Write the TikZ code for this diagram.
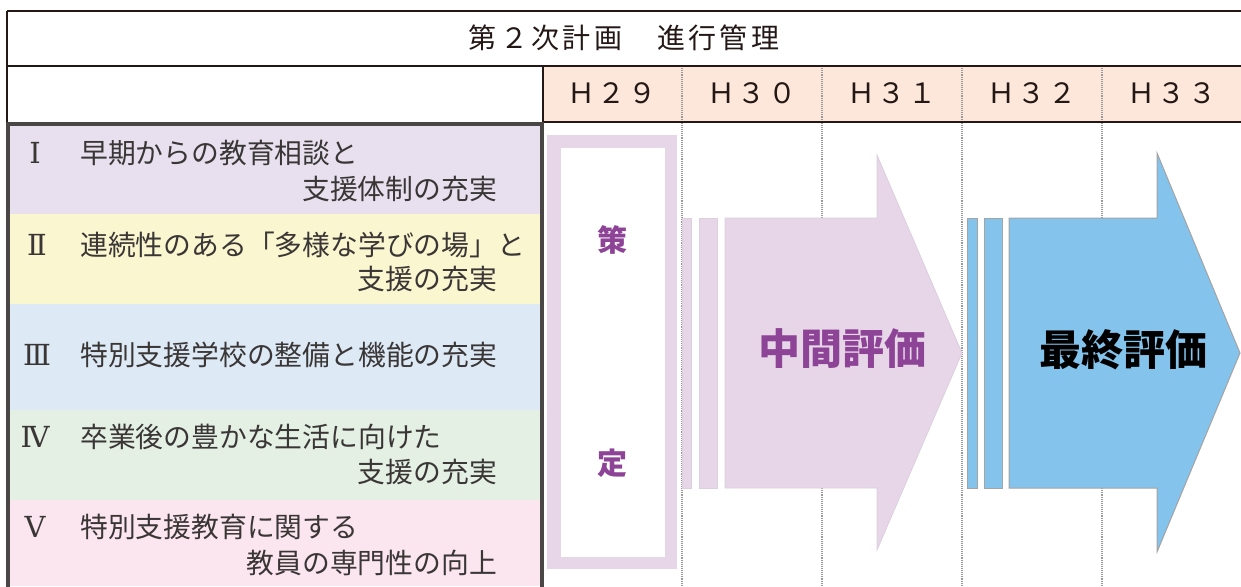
\documentclass[tikz,border=0pt]{standalone}
\usepackage{fontspec}
\newfontfamily\jp{Noto Sans CJK JP}
\newfontfamily\romn{DejaVu Serif}
\definecolor{tline}{HTML}{231815}
\definecolor{pborder}{HTML}{4A4646}
\definecolor{yearfill}{HTML}{FDE6DA}
\definecolor{rowA}{HTML}{E8E0EE}
\definecolor{rowB}{HTML}{FAF6D0}
\definecolor{rowC}{HTML}{DDEAF6}
\definecolor{rowD}{HTML}{E3F0E3}
\definecolor{rowE}{HTML}{FBE6EF}
\definecolor{lav}{HTML}{E6D6E8}
\definecolor{lavedge}{HTML}{DCCFDE}
\definecolor{purp}{HTML}{8E4496}
\definecolor{sky}{HTML}{84C3EC}
\definecolor{skyedge}{HTML}{A4A4A4}
\definecolor{txt}{HTML}{3A3636}
\tikzset{
  tl/.style={draw=tline, line width=1.6pt},
  colline/.style={draw=gray!80, line width=1.1pt, densely dotted},
  rowtxt/.style={font=\jp\fontsize{27.8}{30}\selectfont, inner sep=0pt, text=txt},
  numtxt/.style={font=\romn\fontsize{29}{32}\selectfont, inner sep=0pt, text=txt},
  yeartxt/.style={font=\jp\fontsize{28}{30}\selectfont\addfontfeature{LetterSpace=8}, inner sep=0pt, text=tline},
  titletxt/.style={font=\jp\fontsize{28}{30}\selectfont\addfontfeature{LetterSpace=12}, inner sep=0pt, text=tline},
  lavarrow/.style={fill=lav, draw=lavedge, line width=0.8pt},
  skyarrow/.style={fill=sky, draw=skyedge, line width=1pt},
  bigtxt/.style={font=\jp\bfseries\fontsize{42}{44}\selectfont, inner sep=0pt},
  planttxt/.style={font=\jp\bfseries\fontsize{30}{32}\selectfont, inner sep=0pt, text=purp},
}
\begin{document}
\begin{tikzpicture}[x=1pt,y=-1pt]
\useasboundingbox (0,0) rectangle (1241,586);
% year row fill
\fill[yearfill] (543,66) rectangle (1241,122);
% column lines
\foreach \x in {682,822,962,1102} \draw[colline] (\x,66) -- (\x,586);
% table lines
\draw[tl] (7,11) -- (1241,11);
\draw[tl] (7,66) -- (1241,66);
\draw[tl] (543,122) -- (1241,122);
\draw[tl] (7,11) -- (7,123);
\draw[tl] (543,66) -- (543,122);
% title
\node[titletxt] (title) at (624,38) {第２次計画　進行管理};
% years
\node[yeartxt] (y29) at (612,93) {Ｈ２９};
\node[yeartxt] (y30) at (752,93) {Ｈ３０};
\node[yeartxt] (y31) at (892,93) {Ｈ３１};
\node[yeartxt] (y32) at (1032,93) {Ｈ３２};
\node[yeartxt] (y33) at (1172,93) {Ｈ３３};
% left panel rows
\fill[rowA] (7,123) rectangle (542,214);
\fill[rowB] (7,214) rectangle (542,304);
\fill[rowC] (7,304) rectangle (542,410);
\fill[rowD] (7,410) rectangle (542,500);
\fill[rowE] (7,500) rectangle (542,586);
\draw[draw=pborder, line width=4pt] (7.5,590) -- (7.5,124) -- (541.5,124) -- (541.5,590);
% row texts
\node[numtxt] (n1) at (35,153) {Ⅰ};
\node[rowtxt, anchor=west] (a1) at (80,153) {早期からの教育相談と};
\node[rowtxt, anchor=east] (b1) at (497,189) {支援体制の充実};
\node[numtxt] (n2) at (37,245) {Ⅱ};
\node[rowtxt, anchor=west] (a2) at (80,245) {連続性のある「多様な学びの場」と};
\node[rowtxt, anchor=east] (b2) at (497,279) {支援の充実};
\node[numtxt] (n3) at (37,355) {Ⅲ};
\node[rowtxt, anchor=west] (a3) at (80,355) {特別支援学校の整備と機能の充実};
\node[numtxt] (n4) at (35,437) {Ⅳ};
\node[rowtxt, anchor=west] (a4) at (80,437) {卒業後の豊かな生活に向けた};
\node[rowtxt, anchor=east] (b4) at (497,472) {支援の充実};
\node[numtxt] (n5) at (35,527) {Ⅴ};
\node[rowtxt, anchor=west] (a5) at (80,527) {特別支援教育に関する};
\node[rowtxt, anchor=east] (b5) at (497,563) {教員の専門性の向上};
% plan box
\fill[lav] (547,135) rectangle (677,569);
\fill[white] (561,148) rectangle (665,557);
\node[planttxt] (sa) at (612,240) {策};
\node[planttxt] (te) at (612,463) {定};
% middle evaluation arrow
\draw[lavarrow] (682,218) rectangle (691,488);
\draw[lavarrow] (699,218) rectangle (717,488);
\draw[lavarrow] (725,218) -- (877,218) -- (877,155) -- (962,353) -- (877,550) -- (877,488) -- (725,488) -- cycle;
\node[bigtxt, text=purp] (mid) at (842,349) {中間評価};
% final evaluation arrow
\draw[skyarrow] (967,218) rectangle (977,488);
\draw[skyarrow] (984,218) rectangle (1002,488);
\draw[skyarrow] (1009,218) -- (1157,218) -- (1157,153) -- (1240,353) -- (1157,552) -- (1157,488) -- (1009,488) -- cycle;
\node[bigtxt, text=black] (fin) at (1123,350) {最終評価};
\end{tikzpicture}
\end{document}
